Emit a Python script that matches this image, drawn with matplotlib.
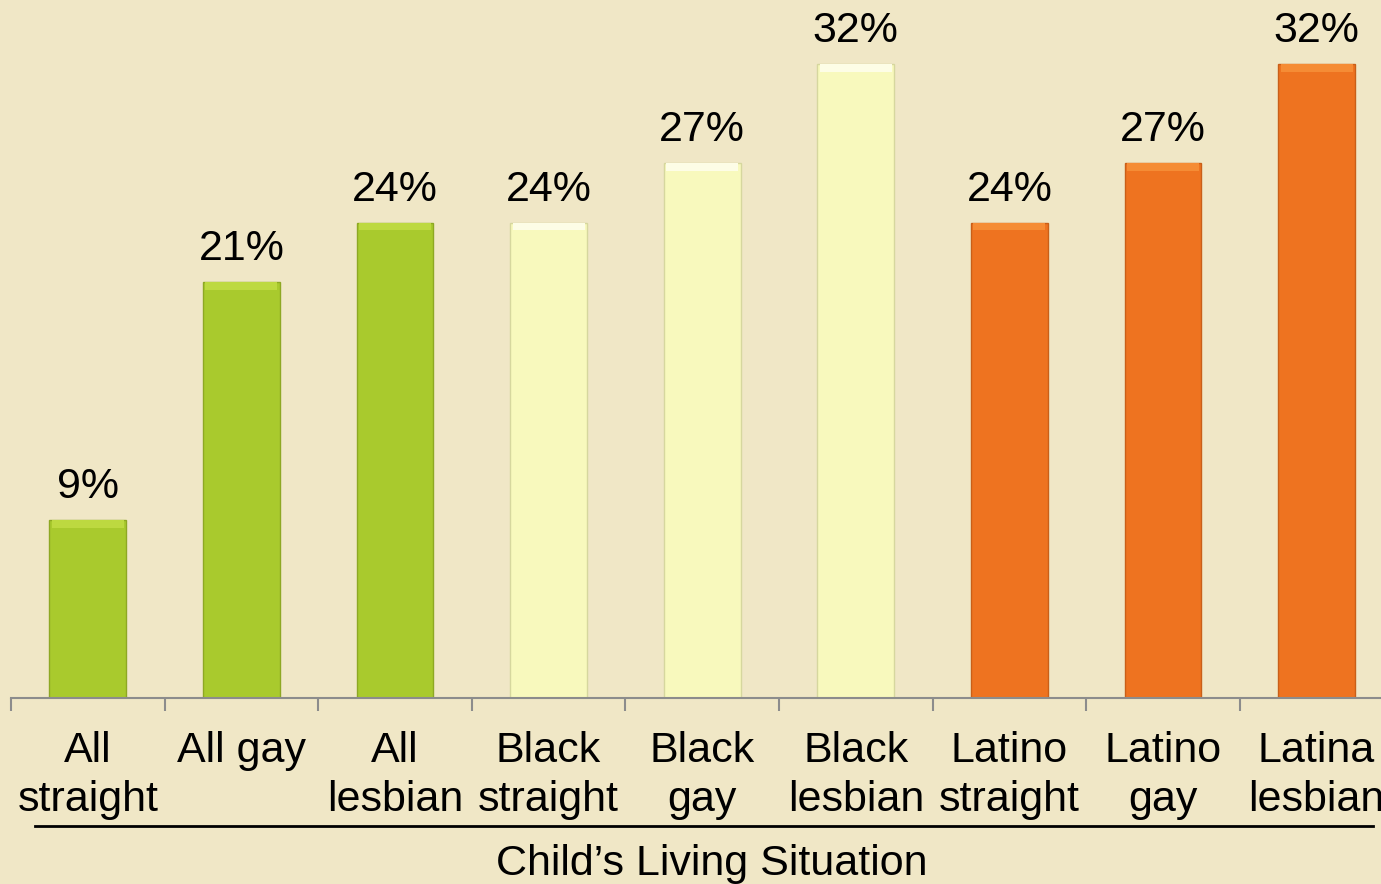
import matplotlib
matplotlib.use("Agg")
import matplotlib.pyplot as plt
from matplotlib.lines import Line2D
import numpy as np

categories = ["All\nstraight", "All gay", "All\nlesbian", "Black\nstraight", "Black\ngay",
              "Black\nlesbian", "Latino\nstraight", "Latino\ngay", "Latina\nlesbian"]
values = [9, 21, 24, 24, 27, 32, 24, 27, 32]
labels = ["9%", "21%", "24%", "24%", "27%", "32%", "24%", "27%", "32%"]
bar_colors = ["#A9CA2D"] * 3 + ["#F8F9BD"] * 3 + ["#EE7320"] * 3
top_colors = ["#BDD940"] * 3 + ["#FDFDE6"] * 3 + ["#F58C35"] * 3
edge_colors = ["#8EA823"] * 3 + ["#D6D79E"] * 3 + ["#C95F18"] * 3
xlabel = "Child\u2019s Living Situation"

plt.rcParams['font.family'] = ['Liberation Sans', 'DejaVu Sans']
bg = "#F0E7C6"
fs = 31

W, H = 1381, 884
fig = plt.figure(figsize=(W / 100, H / 100), dpi=100, facecolor=bg)
base_px = 698
px_per_unit = 19.81
ax = fig.add_axes([11 / W, (H - base_px) / H, 1536 / W, base_px / H])
ax.set_facecolor(bg)
ax.patch.set_alpha(0)

x = np.arange(len(values))
ax.bar(x, values, width=0.5, color=bar_colors, edgecolor=edge_colors, linewidth=1.0, zorder=2)
# bevel highlight at top of each bar
ax.bar(x, [0.4] * len(values), bottom=[v - 0.4 for v in values], width=0.47,
       color=top_colors, linewidth=0, zorder=3)
ax.set_xlim(-0.5, 9.5)
ax.set_ylim(0, base_px / px_per_unit)

for xi, v, lab in zip(x, values, labels):
    ax.text(xi, v + 1.11, lab, ha='center', va='baseline', fontsize=fs, color='black')

for s in ['top', 'right', 'left']:
    ax.spines[s].set_visible(False)
ax.spines['bottom'].set_color('#8C8C8C')
ax.spines['bottom'].set_linewidth(1.5)
ax.set_yticks([])
ax.set_xticks(x)
ax.set_xticklabels(categories, fontsize=fs, linespacing=1.29)
ax.tick_params(axis='x', which='major', length=0, pad=23.5)
ax.set_xticks(np.arange(-0.5, 10, 1), minor=True)
ax.tick_params(axis='x', which='minor', length=9, width=1.5, color='#8C8C8C')

fig.add_artist(Line2D([35 / W, 1373 / W], [(H - 826) / H, (H - 826) / H], color='black', lw=2))
fig.text(712 / W, (H - 875) / H, xlabel, ha='center', va='baseline', fontsize=fs, color='black')

fig.savefig("out.png", dpi=100, facecolor=bg)
